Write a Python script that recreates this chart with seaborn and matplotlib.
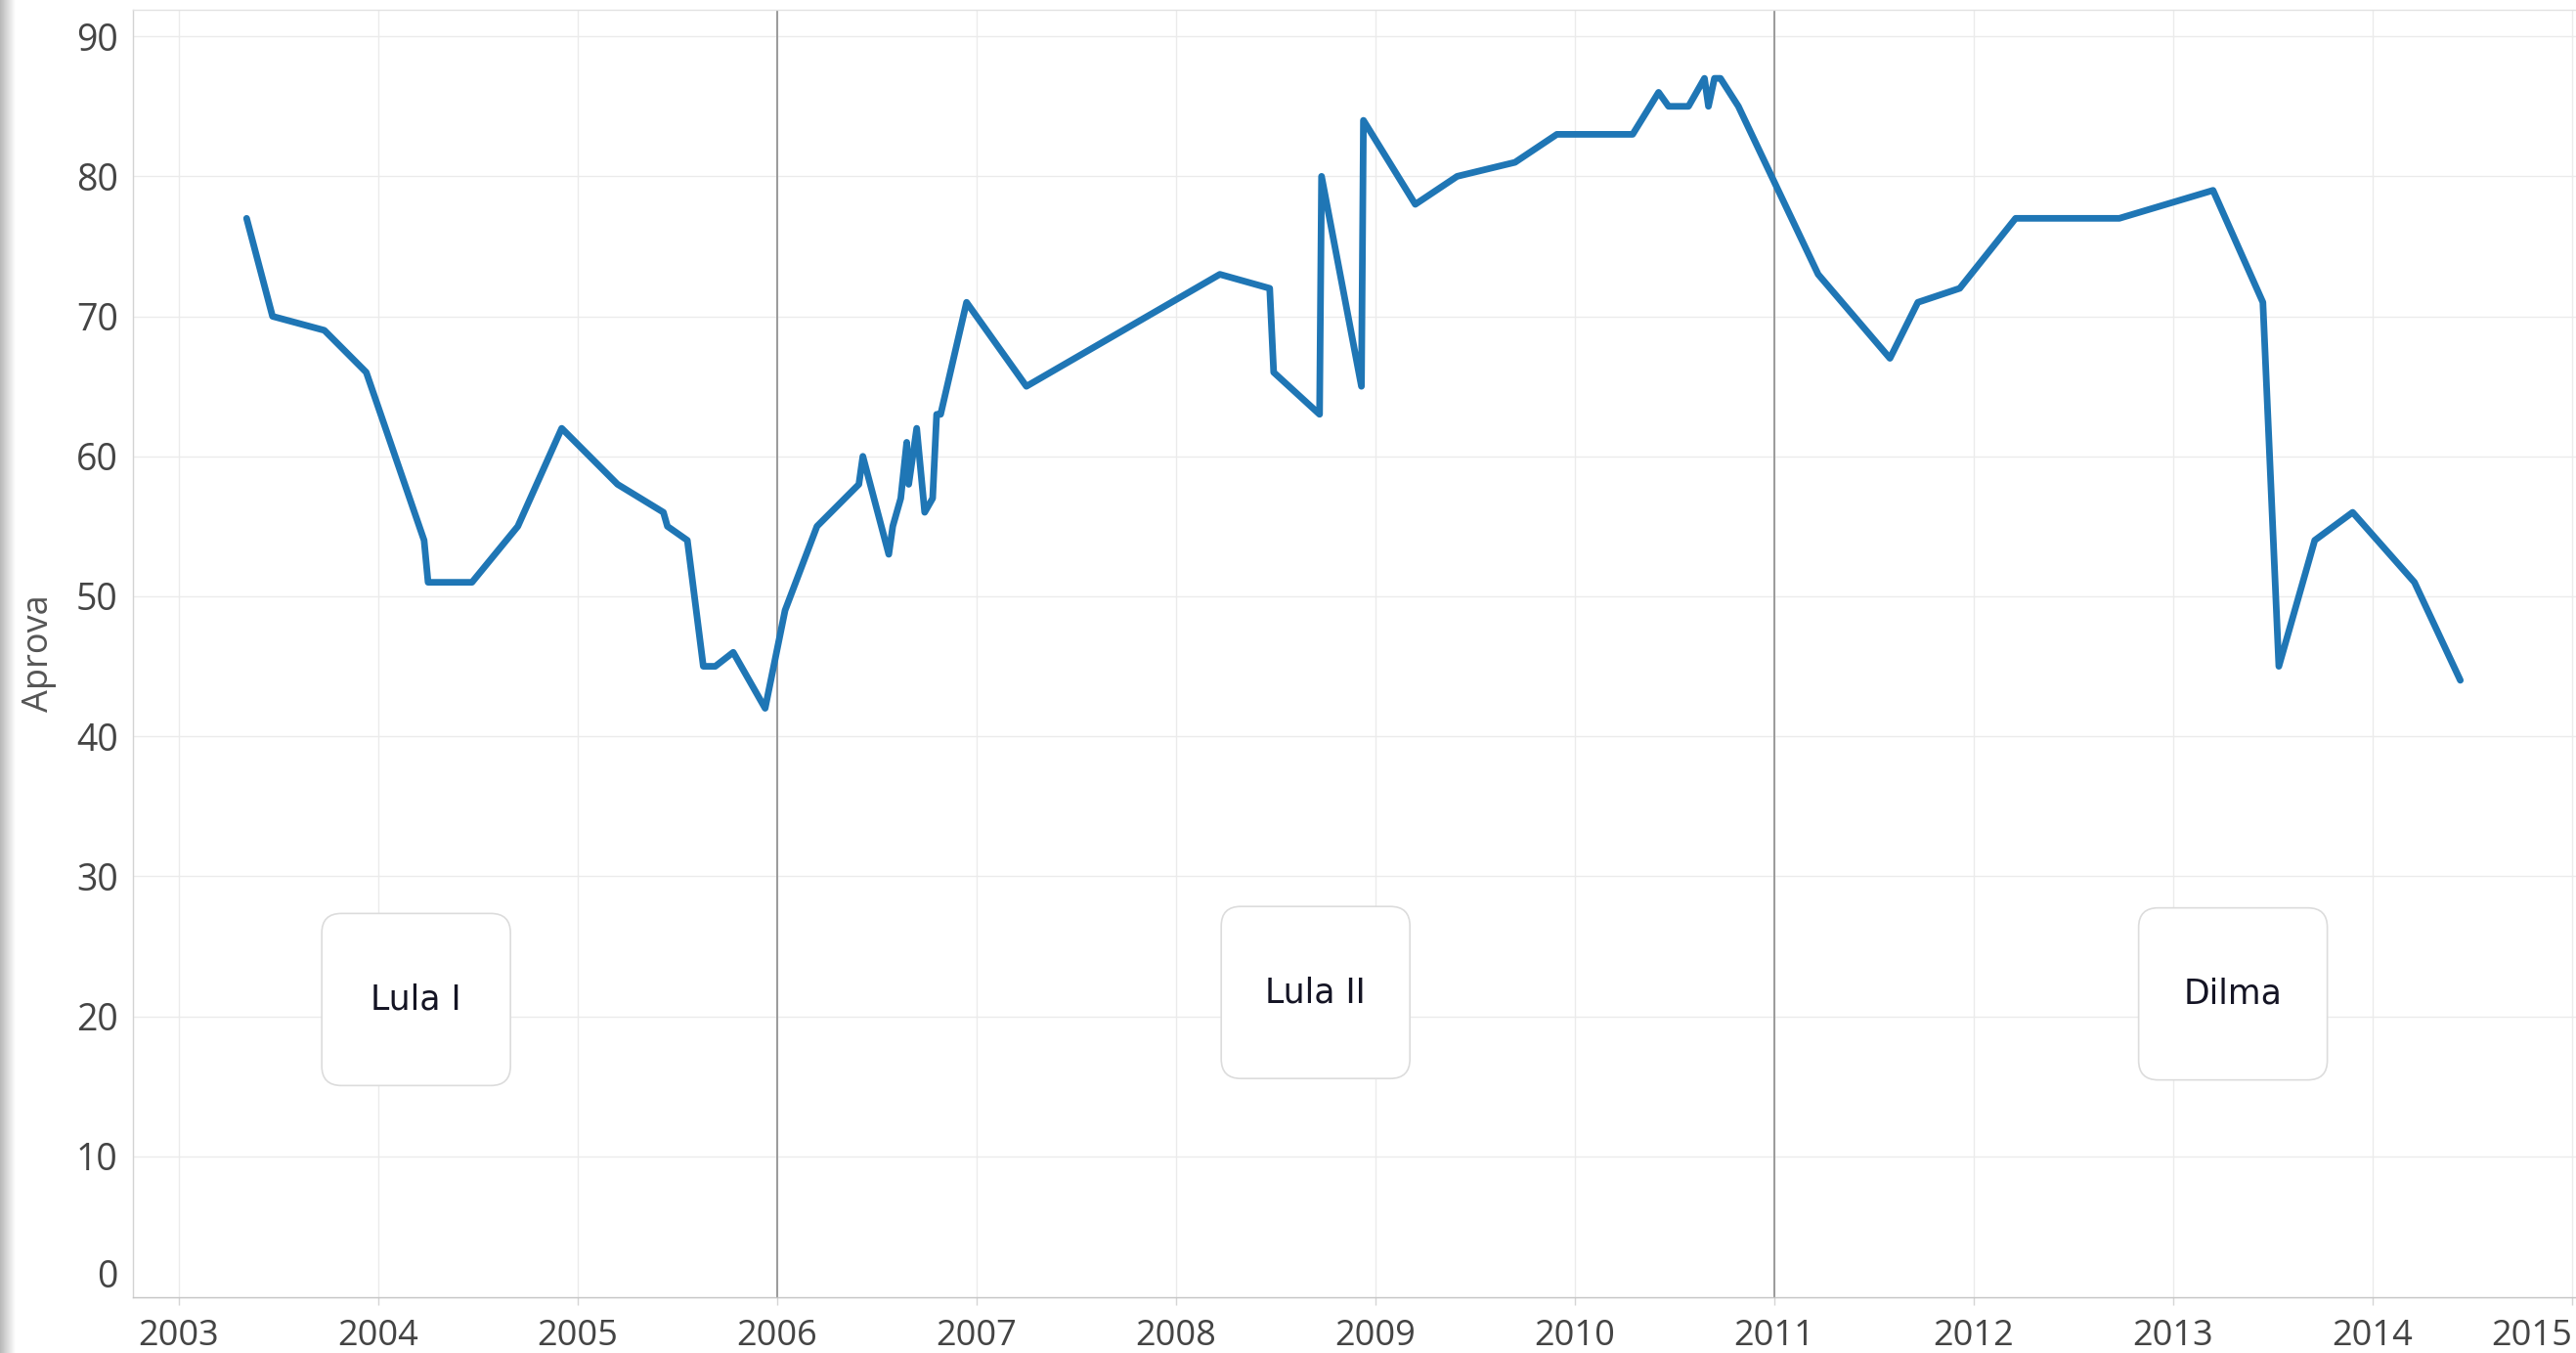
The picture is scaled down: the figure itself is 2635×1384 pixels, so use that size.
import numpy as np
import pandas as pd
import matplotlib
matplotlib.use('Agg')
import matplotlib.pyplot as plt
import seaborn as sns
from matplotlib.patches import FancyBboxPatch
from matplotlib.transforms import ScaledTranslation

# Presidential approval polls (decimal year, % approving)
poll_dates = [
    2003.34, 2003.47, 2003.73, 2003.94, 2004.23, 2004.25, 2004.47, 2004.70,
    2004.92, 2005.20, 2005.43, 2005.45, 2005.55, 2005.63, 2005.69, 2005.78,
    2005.94, 2006.04, 2006.20, 2006.41, 2006.43, 2006.56, 2006.58, 2006.62,
    2006.65, 2006.66, 2006.70, 2006.74, 2006.78, 2006.80, 2006.82, 2006.95,
    2007.25, 2008.22, 2008.47, 2008.49, 2008.72, 2008.73, 2008.93, 2008.94,
    2009.20, 2009.41, 2009.70, 2009.91, 2010.29, 2010.42, 2010.47, 2010.57,
    2010.65, 2010.67, 2010.70, 2010.73, 2010.82, 2011.22, 2011.58, 2011.72,
    2011.93, 2012.21, 2012.73, 2013.20, 2013.45, 2013.53, 2013.71, 2013.90,
    2014.21, 2014.44,
]
approval = [
    77, 70, 69, 66, 54, 51, 51, 55,
    62, 58, 56, 55, 54, 45, 45, 46,
    42, 49, 55, 58, 60, 53, 55, 57,
    61, 58, 62, 56, 57, 63, 63, 71,
    65, 73, 72, 66, 63, 80, 65, 84,
    78, 80, 81, 83, 83, 86, 85, 85,
    87, 85, 87, 87, 85, 73, 67, 71,
    72, 77, 77, 79, 71, 45, 54, 56,
    51, 44,
]

YEAR_TICKS = list(range(2003, 2016))
Y_TICKS = list(range(0, 91, 10))
TERM_BREAKS = [2006, 2011]
TERM_LABELS = ['Lula I', 'Lula II', 'Dilma']

# where the term captions sit (data coords)
TERM_LABEL_X = [2004.19, 2008.70, 2013.30]
TERM_LABEL_Y = [21.2, 21.7, 21.6]

df = pd.DataFrame({'date': poll_dates, 'Aprova': approval})

LINE_BLUE = '#1f76b5'
GRID = '#ebebeb'
TICK_TXT = '#444444'

sns.set_theme(style='white')
plt.rcParams['font.family'] = ['Open Sans', 'DejaVu Sans']

fig = plt.figure(figsize=(26.35, 13.84), dpi=100, facecolor='white')
ax = fig.add_axes([0.0516, 0.0412, 0.9484, 0.9516])

# light vertical/horizontal grid
for yr in YEAR_TICKS:
    ax.axvline(yr, color=GRID, lw=1.0, zorder=0)
for v in Y_TICKS[1:]:
    ax.axhline(v, color=GRID, lw=1.0, zorder=0)

# term boundaries
for b in TERM_BREAKS:
    ax.axvline(b, color='#9a9a9a', lw=1.4, zorder=1)

sns.lineplot(data=df, x='date', y='Aprova', ax=ax, color=LINE_BLUE,
             linewidth=4.9, sort=False, estimator=None, zorder=3)

ax.set_xlim(2002.77, 2015.02)
ax.set_ylim(-0.07, 91.9)

ax.set_xticks(YEAR_TICKS)
ax.set_xticklabels([str(y) for y in YEAR_TICKS])
ax.set_yticks(Y_TICKS)
ax.set_yticklabels([str(v) for v in Y_TICKS])
ax.tick_params(axis='x', length=6, width=1, color='#d5d5d5', pad=10,
               labelsize=26, labelcolor=TICK_TXT, bottom=True)
ax.tick_params(axis='y', length=0, pad=11, labelsize=27, labelcolor=TICK_TXT,
               left=False)
ax.yaxis.get_major_ticks()[0].label1.set_va('bottom')
ax.xaxis.get_major_ticks()[-1].label1.set_ha('right')

ax.set_xlabel('')
ax.set_ylabel('Aprova', fontsize=26, color='#555555')
ax.yaxis.set_label_coords(-0.031, 0.5)

for side in ['left', 'bottom', 'top', 'right']:
    ax.spines[side].set_linewidth(1.0)
ax.spines['left'].set_color('#d3d3d3')
ax.spines['bottom'].set_color('#c4c4c4')
ax.spines['top'].set_color('#e2e2e2')
ax.spines['right'].set_visible(False)

# rounded caption boxes for each term
for label, cx, cy in zip(TERM_LABELS, TERM_LABEL_X, TERM_LABEL_Y):
    tr = fig.dpi_scale_trans + ScaledTranslation(cx, cy, ax.transData)
    box = FancyBboxPatch((-0.965, -0.88), 1.93, 1.76,
                         boxstyle='round,pad=0,rounding_size=0.2',
                         transform=tr, facecolor='white', edgecolor='#dcdcdc',
                         linewidth=1.2, zorder=2)
    ax.add_patch(box)
    ax.text(cx, cy, label, ha='center', va='center', fontsize=25,
            family=['DejaVu Sans'], color='#141424', zorder=4)

# screenshot shadow on the left edge
sh = fig.add_axes([0, 0, 0.006, 1])
sh.imshow(np.linspace(0.72, 1.0, 50).reshape(1, -1), cmap='gray',
          vmin=0, vmax=1, aspect='auto', extent=[0, 1, 0, 1])
sh.axis('off')

fig.savefig('out.png', dpi=100, facecolor='white')
